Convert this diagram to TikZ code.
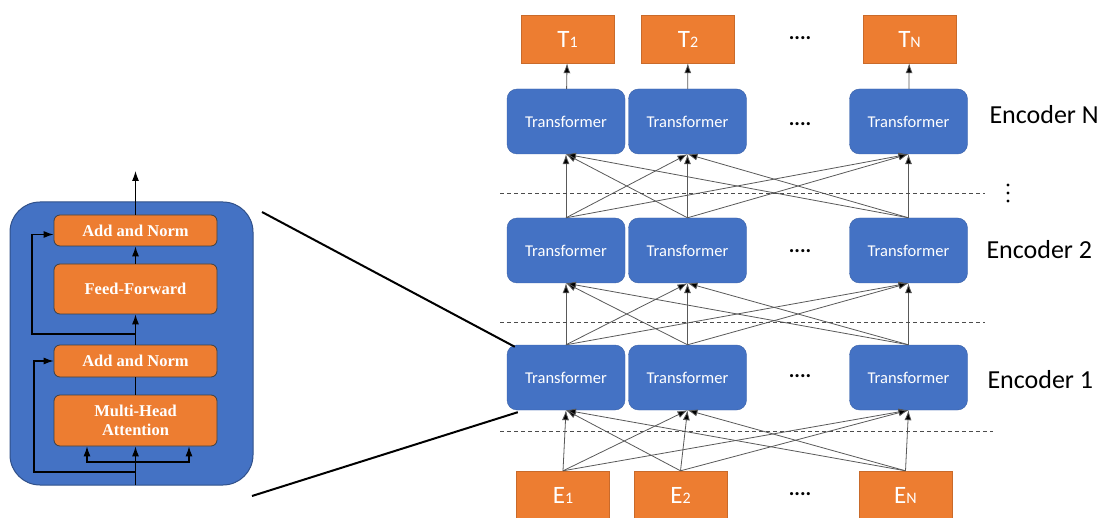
\documentclass[tikz,border=0pt]{standalone}
\usepackage{fontspec}
\newfontfamily\calibri{Carlito}
\newfontfamily\timesrm{Liberation Serif}
\usetikzlibrary{arrows.meta, positioning}
\definecolor{encblue}{HTML}{4472C4}
\definecolor{tokorange}{HTML}{ED7D31}
\newcommand\idx[1]{{\fontsize{16}{16}\selectfont #1}}

\begin{document}
\begin{tikzpicture}[x=1pt,y=-1pt,>={Latex[length=10pt,width=7pt]},
  trans/.style={rectangle,rounded corners=10pt,fill=encblue,draw=encblue!85!black,
    minimum width=118pt,minimum height=65pt,text=white,font=\calibri\fontsize{16.5}{16.5}\selectfont},
  token/.style={rectangle,fill=tokorange,draw=tokorange!85!black,
    minimum width=93pt,minimum height=48pt,text=white,font=\calibri\fontsize{25}{25}\selectfont},
  sublayer/.style={rectangle,rounded corners=6pt,fill=tokorange,draw=black!75,line width=0.8pt,
    minimum width=163pt,text=white,align=center,font=\timesrm\bfseries\fontsize{16.5}{19}\selectfont},
  fan/.style={->,draw=black!65,line width=0.8pt,arrows={->[fill=black]}},
  wire/.style={line width=1.1pt,draw=black},
  sep/.style={dashed,dash pattern=on 4pt off 3pt,draw=black!70,line width=0.9pt},
  dots/.style={font=\calibri\bfseries\fontsize{21}{21}\selectfont},
  label/.style={anchor=west,font=\calibri\fontsize{26}{26}\selectfont}]
  \useasboundingbox (0,0) rectangle (1102,518);

  % encoder block, zoomed in
  \node[rectangle,rounded corners=30pt,fill=encblue,draw=encblue!70!black,line width=1pt,
    minimum width=243pt,minimum height=283pt] (layer) at (131.5,343.5) {};
  \node[sublayer,minimum height=31pt] (addnorm2) at (135.5,230.5) {Add and Norm};
  \node[sublayer,minimum height=50pt] (feedfwd) at (135.5,289) {Feed-Forward};
  \node[sublayer,minimum height=32pt] (addnorm1) at (135.5,361) {Add and Norm};
  \node[sublayer,minimum height=51pt] (mhatt) at (135.5,420.5) {Multi-Head\\Attention};
  \coordinate (blockin) at (135.5,485);
  \coordinate (blockout) at (135.5,171);
  \draw[wire,->] (blockin) -- (mhatt.south);
  \draw[wire,->] (135.5,462) -| ([xshift=-48.5pt]mhatt.south);
  \draw[wire,->] (135.5,462) -| ([xshift=53.5pt]mhatt.south);
  \draw[wire] (mhatt) -- (addnorm1);
  \draw[wire,->] (135.5,472) -- (34,472) |- (addnorm1.west);
  \draw[wire,->] (addnorm1) -- (feedfwd);
  \draw[wire,->] (135.5,334) -- (32,334) |- ([yshift=-4pt]addnorm2.west);
  \draw[wire,->] (feedfwd) -- (addnorm2);
  \draw[wire,->] (addnorm2.north) -- (blockout);

  % outputs
  \node[token] (t1) at (567.5,39) {T\idx{1}};
  \node[token] (t2) at (688,39) {T\idx{2}};
  \node[token] (tn) at (909.5,39) {T\idx{N}};
  % encoder N
  \node[trans] (c1) at (566,121.5) {Transformer};
  \node[trans] (c2) at (687.5,121.5) {Transformer};
  \node[trans] (cn) at (908.5,121.5) {Transformer};
  % encoder 2
  \node[trans] (b1) at (566,250.5) {Transformer};
  \node[trans] (b2) at (687.5,250.5) {Transformer};
  \node[trans] (bn) at (908.5,250.5) {Transformer};
  % encoder 1
  \node[trans] (a1) at (566,377.5) {Transformer};
  \node[trans] (a2) at (687.5,377.5) {Transformer};
  \node[trans] (an) at (908.5,377.5) {Transformer};
  % inputs
  \node[token] (e1) at (563,495) {E\idx{1}};
  \node[token] (e2) at (680.5,495) {E\idx{2}};
  \node[token] (en) at (905.5,495) {E\idx{N}};

  \foreach \lo/\hi in {e/a, a/b, b/c}
    \foreach \i in {1,2,n}
      \foreach \j in {1,2,n}
        \draw[fan] (\lo\i.north) -- (\hi\j.south);
  \foreach \i in {1,2,n}
    \draw[fan] (c\i) -- (t\i);

  \draw[sep] (500,193) -- (985,193);
  \draw[sep] (500,322) -- (985,322);
  \draw[sep] (500,431) -- (993,431);

  \foreach \y in {38,124,251,376,494}
    \node[dots] at (800,\y) {....};
  \foreach \y in {185,193,201}
    \fill (1008,\y) circle (1.7pt);

  \node[label] (encn) at (986,115) {Encoder N};
  \node[label] (enc2) at (983,250) {Encoder 2};
  \node[label] (enc1) at (984,380) {Encoder 1};

  % zoom lines
  \coordinate (zoomtop) at (262,212);
  \coordinate (zoombot) at (252,496);
  \draw[line width=2pt] (zoomtop) -- ([xshift=8pt,yshift=-2pt]a1.north west);
  \draw[line width=2pt] (zoombot) -- ([xshift=11pt,yshift=-2pt]a1.south west);
\end{tikzpicture}
\end{document}
